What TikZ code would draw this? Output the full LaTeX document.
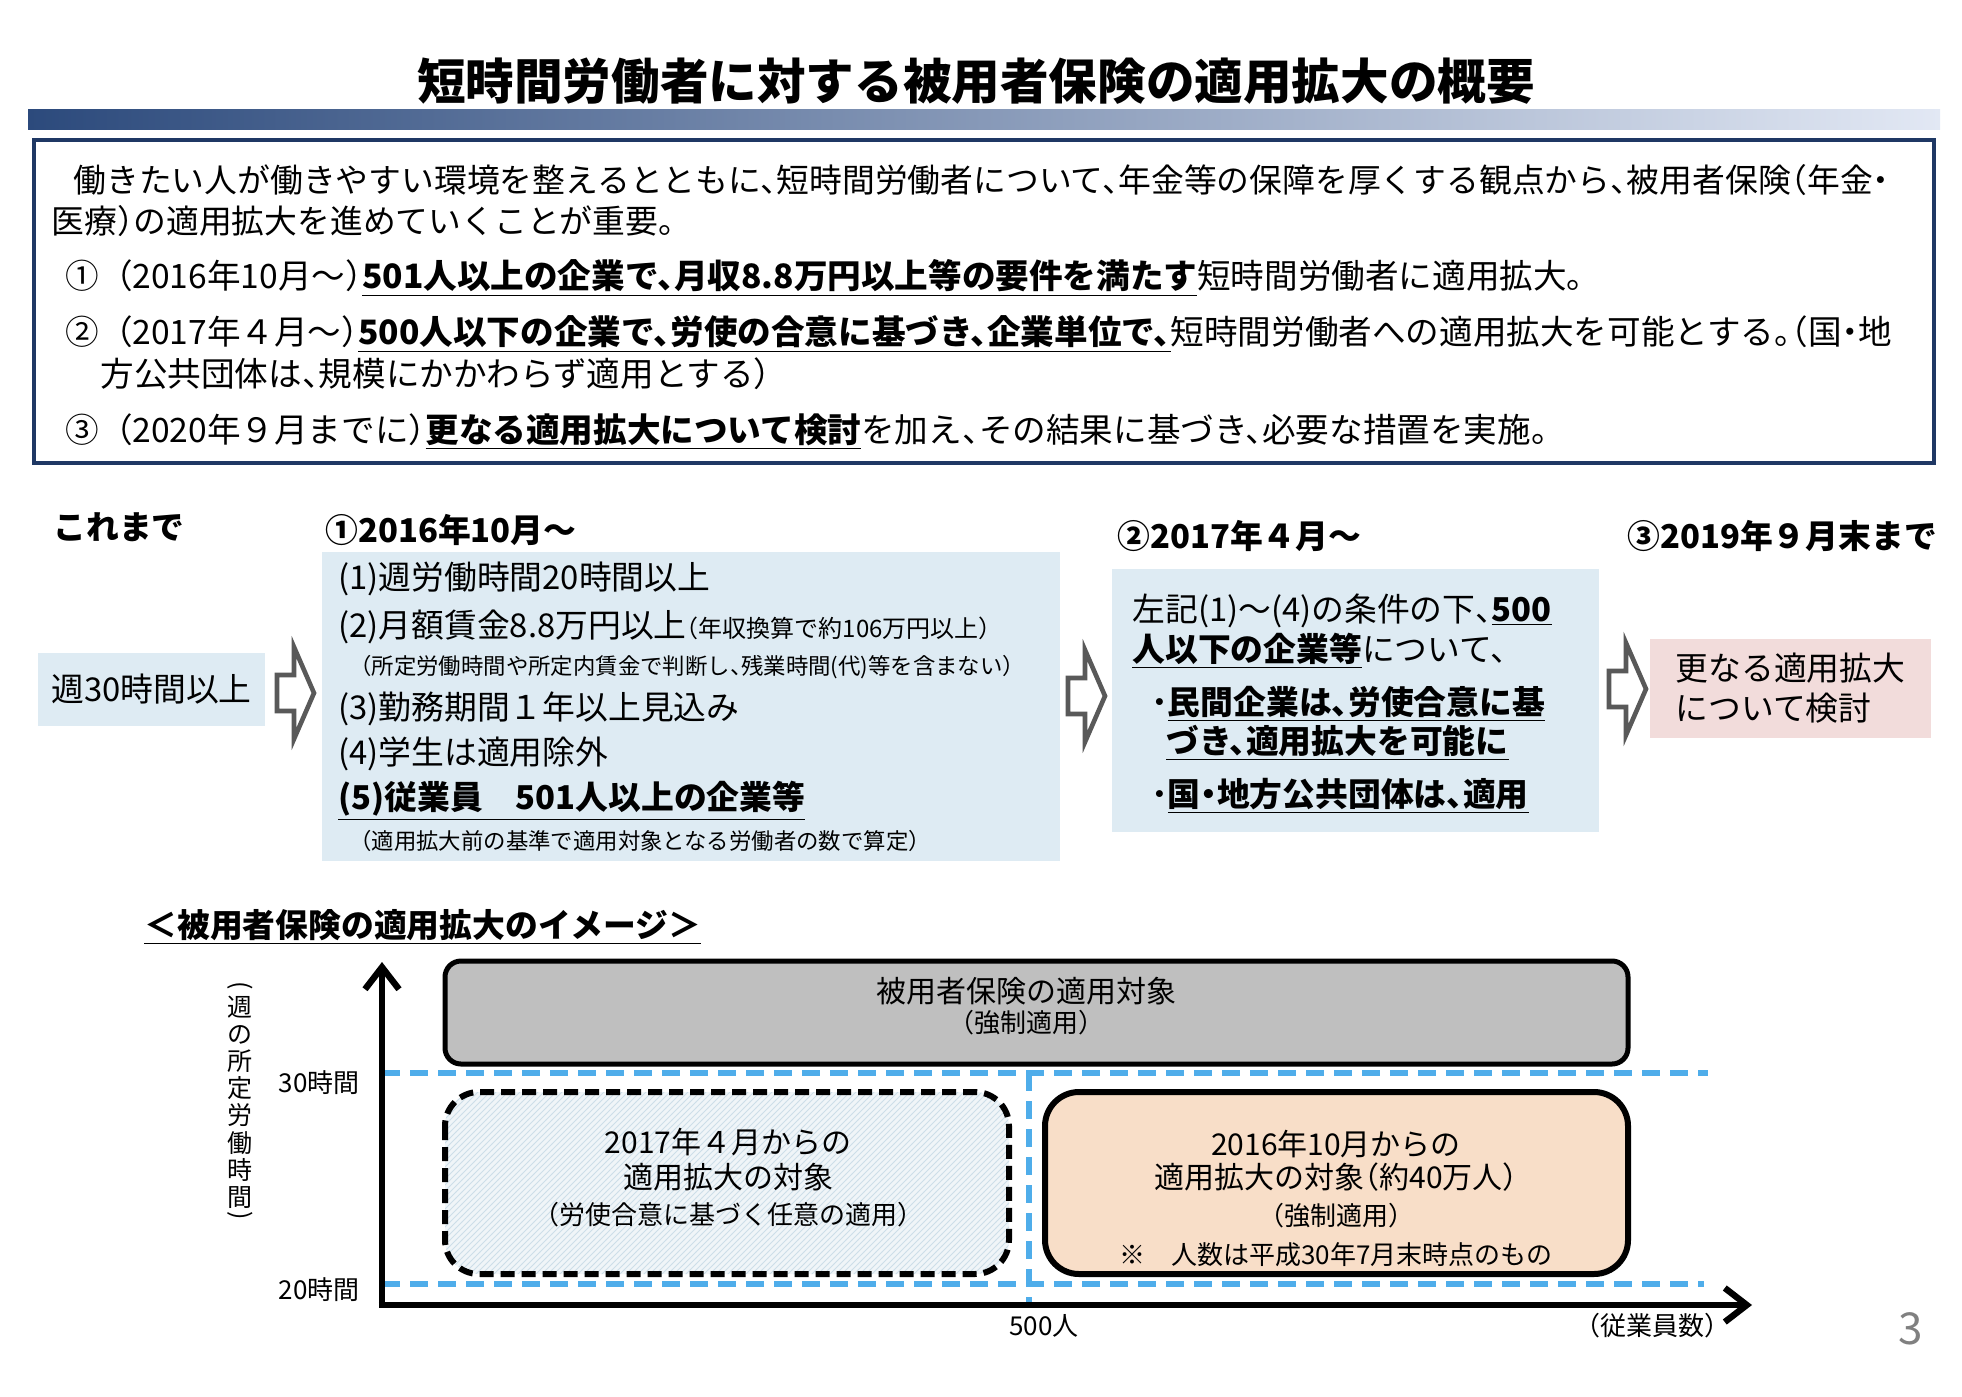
\documentclass[tikz,border=0pt]{standalone}
\usepackage{fontspec}
\setmainfont{Noto Sans CJK JP}[RawFeature=+halt]
\usetikzlibrary{arrows.meta,patterns}

\definecolor{navy}{RGB}{31,56,100}
\definecolor{barL}{RGB}{44,74,124}
\definecolor{barM}{RGB}{98,168,196}
\definecolor{barR}{RGB}{226,232,244}
\definecolor{paleblue}{RGB}{222,235,243}
\definecolor{palepink}{RGB}{242,220,219}
\definecolor{boxgray}{RGB}{191,191,191}
\definecolor{peach}{RGB}{248,222,200}
\definecolor{hatchbg}{RGB}{240,245,248}
\definecolor{hatchln}{RGB}{205,222,232}
\definecolor{skyline}{RGB}{79,173,234}
\definecolor{arrowgray}{RGB}{89,89,89}

\newcommand\ul[1]{\underline{\textbf{#1}}}
\newcommand\fsTitle{\fontsize{24.3}{28}\selectfont}
\newcommand\fsLead{\fontsize{16.4}{20}\selectfont}
\newcommand\fsItem{\fontsize{16.8}{20}\selectfont}
\newcommand\fsNote{\fontsize{11.2}{14}\selectfont}
\newcommand\fsChart{\fontsize{15}{18}\selectfont}
\newcommand\fsSmall{\fontsize{13}{16}\selectfont}
\newcommand\fsAxis{\fontsize{12.5}{13.6}\selectfont}

\begin{document}
\begin{tikzpicture}[x=0.5pt, y=-0.5pt, inner sep=0pt,
  leadtxt/.style={anchor=west, font=\fsLead},
  itemtxt/.style={anchor=west, font=\fsItem},
  notetxt/.style={anchor=west, font=\fsNote},
  headtxt/.style={anchor=west, font=\fsLead\bfseries},
  blockarrow/.pic={\draw[arrowgray, line width=2.3pt, fill=white, line join=miter]
    (0,-18) -- (17,-18) -- (17,-46) -- (37,0) -- (17,46) -- (17,18) -- (0,18) -- cycle;},
  skydash/.style={skyline, line width=3.4pt, dash pattern=on 9pt off 5pt},
  axisline/.style={line width=3.2pt, -{Straight Barb[length=11pt, width=17pt]}},
  ctext/.style={font=\fsChart},
  csmall/.style={font=\fsSmall},
  vparen/.style={font=\fsAxis, rotate=-90}]

  \useasboundingbox (0,0) rectangle (1962,1396);

  % --- Title ---
  \node[font=\fsTitle\bfseries] (title) at (976,81) {短時間労働者に対する被用者保険の適用拡大の概要};
  \shade[left color=barL, middle color=barM, right color=barR] (28,110) rectangle (1940,130);

  % --- Summary box ---
  \draw[navy, line width=2pt] (34,140) rectangle (1934,463);
  \node[leadtxt] (lead1) at (73,180) {働きたい人が働きやすい環境を整えるとともに、短時間労働者について、年金等の保障を厚くする観点から、被用者保険（年金・};
  \node[leadtxt] (lead2) at (51,221) {医療）の適用拡大を進めていくことが重要。};
  \node[itemtxt] (item1) at (65,278) {①\hspace{0.5em}（2016年10月～）\ul{501人以上の企業で、月収8.8万円以上等の要件を満たす}短時間労働者に適用拡大。};
  \node[itemtxt] (item2) at (65,334) {②\hspace{0.5em}（2017年４月～）\ul{500人以下の企業で、労使の合意に基づき、企業単位で、}短時間労働者への適用拡大を可能とする。（国・地};
  \node[itemtxt] (item2b) at (100,374) {方公共団体は、規模にかかわらず適用とする）};
  \node[itemtxt] (item3) at (65,432) {③\hspace{0.5em}（2020年９月までに）\ul{更なる適用拡大について検討}を加え、その結果に基づき、必要な措置を実施。};

  % --- Timeline headings ---
  \node[headtxt] (hdNow) at (53,527) {これまで};
  \node[headtxt] (hdOne) at (325,530) {①2016年10月～};
  \node[headtxt] (hdTwo) at (1117,536) {②2017年４月～};
  \node[headtxt] (hdThree) at (1627,536) {③2019年９月末まで};

  % --- Timeline boxes ---
  \node[fill=paleblue, minimum width=113.5pt, minimum height=36.5pt, font=\fsLead] (boxNow) at (151.5,689.5) {週30時間以上};
  \pic at (277,693) {blockarrow};

  \fill[paleblue] (322,552) rectangle (1060,861);
  \node[leadtxt] (condA) at (338,579) {(1)週労働時間20時間以上};
  \node[leadtxt] (condB) at (338,627) {(2)月額賃金8.8万円以上{\fontsize{12}{14}\selectfont （年収換算で約106万円以上）}};
  \node[notetxt] (condBn) at (360,667) {（所定労働時間や所定内賃金で判断し、残業時間(代)等を含まない）};
  \node[leadtxt] (condC) at (338,709) {(3)勤務期間１年以上見込み};
  \node[leadtxt] (condD) at (338,754) {(4)学生は適用除外};
  \node[leadtxt] (condE) at (338,801) {\ul{(5)従業員　501人以上の企業等}};
  \node[notetxt] (condEn) at (360,841) {（適用拡大前の基準で適用対象となる労働者の数で算定）};
  \pic at (1068,696) {blockarrow};

  \fill[paleblue] (1112,569) rectangle (1599,832);
  \node[leadtxt] (optA) at (1132,611) {左記(1)～(4)の条件の下、\ul{500}};
  \node[leadtxt] (optB) at (1132,651) {\ul{人以下の企業等}について、};
  \node[leadtxt] (optC) at (1151,704) {・\ul{民間企業は、労使合意に基}};
  \node[leadtxt] (optD) at (1166,743) {\ul{づき、適用拡大を可能に}};
  \node[leadtxt] (optE) at (1151,796) {・\ul{国・地方公共団体は、適用}};
  \pic at (1609,689) {blockarrow};

  \node[fill=palepink, minimum width=140.5pt, minimum height=49.5pt, font=\fsLead, align=left] (boxNext) at (1790.5,688.5) {更なる適用拡大\\について検討};

  % --- Image of the extension ---
  \node[anchor=west, font=\fsLead\bfseries] (imgHead) at (144,927) {\underline{＜被用者保険の適用拡大のイメージ＞}};

  \draw[skydash] (382,1073) -- (1708,1073);
  \draw[skydash] (382,1284) -- (1704,1284);
  \draw[skydash] (1029,1073) -- (1029,1305);

  \draw[line width=2.5pt, rounded corners=8pt, fill=boxgray] (445,961) rectangle (1628,1064);
  \node[ctext] (allA) at (1026,991) {被用者保険の適用対象};
  \node[csmall] (allB) at (1026,1023) {（強制適用）};

  \draw[preaction={fill=hatchbg}, preaction={pattern=north east lines, pattern color=hatchln},
    line width=3pt, dash pattern=on 7pt off 3.5pt, rounded corners=17pt] (445,1092) rectangle (1009,1274);
  \node[ctext] (optT1) at (728,1142) {2017年４月からの};
  \node[ctext] (optT2) at (728,1177) {適用拡大の対象};
  \node[csmall] (optT3) at (728,1215) {（労使合意に基づく任意の適用）};

  \draw[line width=3pt, rounded corners=17pt, fill=peach] (1045,1092) rectangle (1628,1274);
  \node[ctext] (manT1) at (1336,1144) {2016年10月からの};
  \node[ctext] (manT2) at (1336,1177) {適用拡大の対象（約40万人）};
  \node[csmall] (manT3) at (1336,1216) {（強制適用）};
  \node[csmall] (manT4) at (1336,1255) {※　人数は平成30年7月末時点のもの};

  % axes
  \coordinate (origin) at (382,1305);
  \coordinate (ytop) at (382,962);
  \coordinate (xend) at (1752,1305);
  \draw[axisline] (origin) -- (ytop);
  \draw[axisline] ([xshift=-1.6pt]origin) -- (xend);

  \node[vparen] (ylabL) at (240,986) {(};
  \node[font=\fsAxis, align=center] (ylab) at (240,1102) {週\\の\\所\\定\\労\\働\\時\\間};
  \node[vparen] (ylabR) at (240,1216) {)};
  \node[csmall, anchor=east] (tick30) at (360,1083) {30時間};
  \node[csmall, anchor=east] (tick20) at (360,1290) {20時間};
  \node[csmall] (tick500) at (1044,1326) {500人};
  \node[csmall] (xlab) at (1652,1326) {（従業員数）};

  \node[font=\fontsize{22}{24}\selectfont, text=gray] (page) at (1911,1329) {3};

\end{tikzpicture}
\end{document}
